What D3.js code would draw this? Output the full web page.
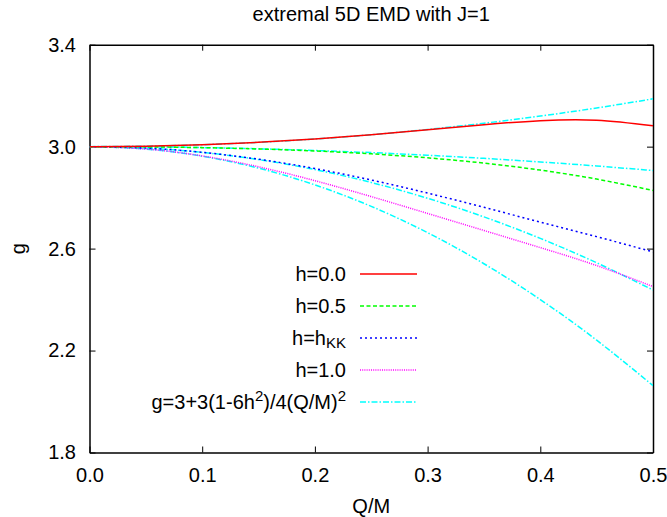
<!DOCTYPE html>
<html>
<head>
<meta charset="utf-8">
<script src="https://cdn.jsdelivr.net/npm/d3@7"></script>
<style>
  body { margin: 0; background: #fff; }
  text { font-family: "Liberation Sans", Arial, Helvetica, sans-serif; fill: #000; }
</style>
</head>
<body>
<svg width="667" height="517"></svg>
<script>
// Q/M sample points
const qm = [0, 0.05, 0.1, 0.15, 0.2, 0.25, 0.3, 0.35, 0.4, 0.45, 0.5];

// numerical curves
const gH00 = [3.0, 3.0019, 3.0075, 3.0169, 3.030, 3.0467, 3.066, 3.086, 3.102, 3.104, 3.082];
const gH05 = [3.0, 2.9991, 2.9961, 2.9909, 2.983, 2.9717, 2.9561, 2.9353, 2.908, 2.8728, 2.8281];
const gHKK = [3.0, 2.9944, 2.9778, 2.9506, 2.914, 2.8691, 2.8178, 2.7619, 2.704, 2.6469, 2.587];
const gH10 = [3.0, 2.9907, 2.9636, 2.921, 2.8665, 2.8041, 2.738, 2.6711, 2.6039, 2.5335, 2.451];

// perturbative curves (cyan)
const pH00 = [3.0, 3.0019, 3.0075, 3.0169, 3.030, 3.0469, 3.0675, 3.0919, 3.12, 3.1519, 3.1875];
const pH05 = [3.0, 2.9991, 2.9963, 2.9916, 2.985, 2.9766, 2.9663, 2.9541, 2.94, 2.9241, 2.9063];
const pHKK = [3.0, 2.9944, 2.9775, 2.9494, 2.91, 2.8594, 2.7975, 2.7244, 2.64, 2.5444, 2.4375];
const pH10 = [3.0, 2.9906, 2.9625, 2.9156, 2.85, 2.7656, 2.6625, 2.5406, 2.40, 2.2406, 2.0625];

const xTicks = [0, 0.1, 0.2, 0.3, 0.4, 0.5];
const yTicks = [1.8, 2.2, 2.6, 3.0, 3.4];

const W = 667, H = 517;
const m = {left: 89.5, right: 14, top: 44.7, bottom: 64.5};
const pw = W - m.left - m.right, ph = H - m.top - m.bottom;

const svg = d3.select("svg");
const g = svg.append("g").attr("transform", `translate(${m.left},${m.top})`);

const x = d3.scaleLinear().domain([0, 0.5]).range([0, pw]);
const y = d3.scaleLinear().domain([1.8, 3.4]).range([ph, 0]);

svg.append("defs").append("clipPath").attr("id", "clip")
  .append("rect").attr("width", pw).attr("height", ph);

const fmt = d3.format(".1f");

const styleAxis = sel => {
  sel.select(".domain").attr("stroke", "#000").attr("stroke-width", 1.5);
  sel.selectAll(".tick line").attr("stroke", "#000").attr("stroke-width", 1);
  sel.selectAll("text").style("font-size", "20px").attr("fill", "#000");
};

g.append("g").attr("transform", `translate(0,${ph})`)
  .call(d3.axisBottom(x).tickValues(xTicks).tickFormat(fmt).tickSizeInner(-6).tickSizeOuter(0).tickPadding(15))
  .call(styleAxis);
g.append("g")
  .call(d3.axisLeft(y).tickValues(yTicks).tickFormat(fmt).tickSizeInner(-6).tickSizeOuter(0).tickPadding(13.5))
  .call(styleAxis);
g.append("g")
  .call(d3.axisTop(x).tickValues(xTicks).tickFormat("").tickSizeInner(-6).tickSizeOuter(0))
  .call(styleAxis);
g.append("g").attr("transform", `translate(${pw},0)`)
  .call(d3.axisRight(y).tickValues(yTicks).tickFormat("").tickSizeInner(-6).tickSizeOuter(0))
  .call(styleAxis);

const series = [
  {vals: gH00, color: "#ff0000", dash: null},
  {vals: gH05, color: "#00ff00", dash: "4,2.5"},
  {vals: gHKK, color: "#0000ff", dash: "2,3"},
  {vals: gH10, color: "#ff00ff", dash: "1,1.2"},
  {vals: pH00, color: "#00ffff", dash: "6,2,1.5,2"},
  {vals: pH05, color: "#00ffff", dash: "6,2,1.5,2"},
  {vals: pHKK, color: "#00ffff", dash: "6,2,1.5,2"},
  {vals: pH10, color: "#00ffff", dash: "6,2,1.5,2"}
];

const line = d3.line().x(d => x(d[0])).y(d => y(d[1])).curve(d3.curveNatural);

const plot = g.append("g").attr("clip-path", "url(#clip)");
// draw cyan first so coloured curves sit on top
series.slice().reverse().forEach(s => {
  plot.append("path")
    .datum(qm.map((q, i) => [q, s.vals[i]]))
    .attr("d", line)
    .attr("fill", "none")
    .attr("stroke", s.color)
    .attr("stroke-width", 1.5)
    .attr("stroke-dasharray", s.dash);
});

// legend
const legend = [
  {label: [["h=0.0", 0]], color: "#ff0000", dash: null},
  {label: [["h=0.5", 0]], color: "#00ff00", dash: "4,2.5"},
  {label: [["h=h", 0], ["KK", 1]], color: "#0000ff", dash: "2,3"},
  {label: [["h=1.0", 0]], color: "#ff00ff", dash: "1,1.2"},
  {label: [["g=3+3(1-6h", 0], ["2", -1], [")/4(Q/M)", 0], ["2", -1]], color: "#00ffff", dash: "6,2,1.5,2"}
];
const ly0 = 274 - m.top, lstep = 32;
legend.forEach((L, i) => {
  const yy = ly0 + i * lstep;
  const t = g.append("text").attr("x", 346 - m.left).attr("y", yy)
    .attr("text-anchor", "end").attr("dominant-baseline", "central")
    .style("font-size", "20px");
  L.label.forEach(([s, k]) => {
    const ts = t.append("tspan").text(s);
    if (k === 1) ts.attr("baseline-shift", "-30%").style("font-size", "15px");
    if (k === -1) ts.attr("baseline-shift", "45%").style("font-size", "15px");
  });
  g.append("line").attr("x1", 360 - m.left).attr("x2", 417 - m.left)
    .attr("y1", yy).attr("y2", yy)
    .attr("stroke", L.color).attr("stroke-width", 1.5)
    .attr("stroke-dasharray", L.dash);
});

// title and axis labels
svg.append("text").attr("x", m.left + pw / 2).attr("y", 21)
  .attr("text-anchor", "middle").style("font-size", "20px")
  .text("extremal 5D EMD with J=1");
svg.append("text").attr("x", m.left + pw / 2).attr("y", 513)
  .attr("text-anchor", "middle").style("font-size", "20px").text("Q/M");
svg.append("text").attr("transform", `translate(25,${m.top + ph / 2}) rotate(-90)`)
  .attr("text-anchor", "middle").style("font-size", "20px").text("g");
</script>
</body>
</html>
